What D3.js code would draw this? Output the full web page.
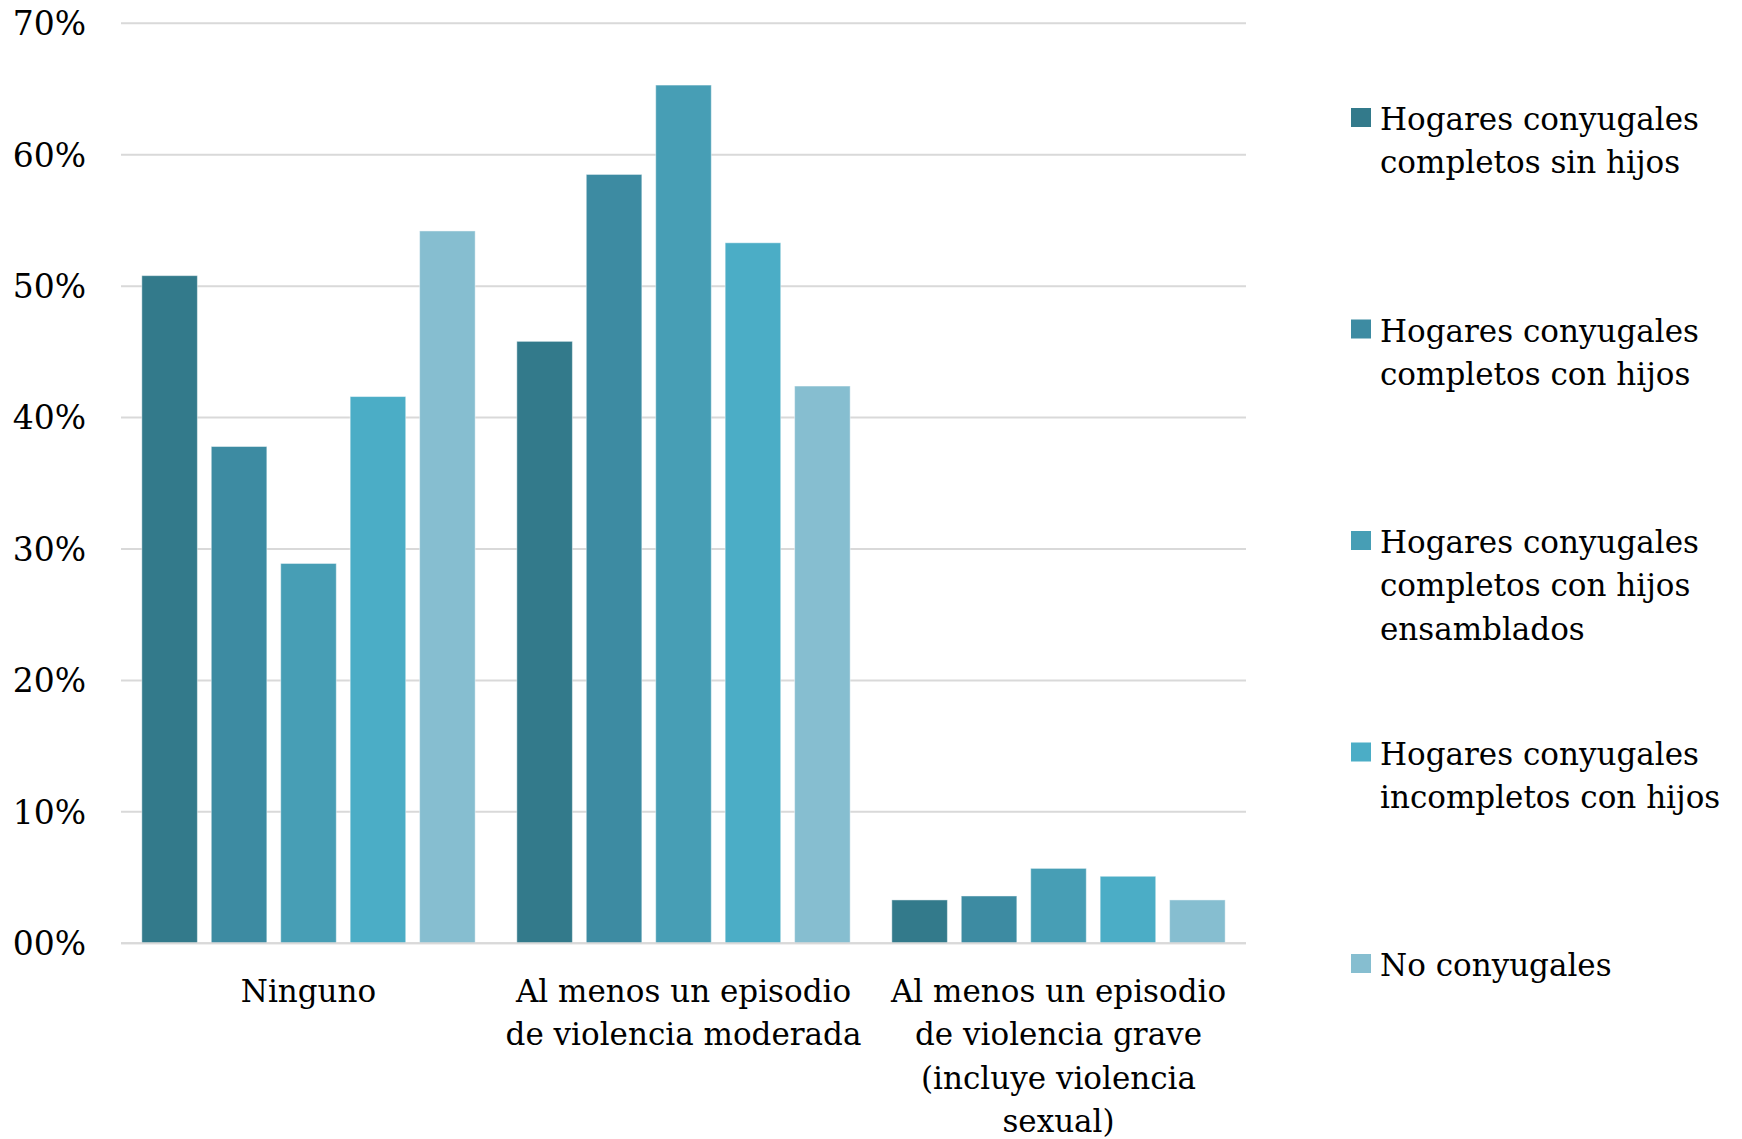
<!DOCTYPE html>
<html><head><meta charset="utf-8">
<script src="https://cdn.jsdelivr.net/npm/d3@7"></script>
<style>body{margin:0;background:#fff}svg{display:block}</style>
</head><body>
<svg id="c" width="1742" height="1139"></svg>
<script>
const categories = [
  ["Ninguno"],
  ["Al menos un episodio", "de violencia moderada"],
  ["Al menos un episodio", "de violencia grave", "(incluye violencia", "sexual)"]
];
const seriesNames = [
  ["Hogares conyugales", "completos sin hijos"],
  ["Hogares conyugales", "completos con hijos"],
  ["Hogares conyugales", "completos con hijos", "ensamblados"],
  ["Hogares conyugales", "incompletos con hijos"],
  ["No conyugales"]
];
const sinHijos      = [50.8, 45.8, 3.3];
const conHijos      = [37.8, 58.5, 3.6];
const ensamblados   = [28.9, 65.3, 5.7];
const incompletos   = [41.6, 53.3, 5.1];
const noConyugales  = [54.2, 42.4, 3.3];
const seriesValues = [sinHijos, conHijos, ensamblados, incompletos, noConyugales];
const colors = ["#337a8b", "#3d8ba2", "#479eb5", "#4badc6", "#86bed0"];
const tickValues = [0, 10, 20, 30, 40, 50, 60, 70];
const tickLabels = ["00%", "10%", "20%", "30%", "40%", "50%", "60%", "70%"];

(function () {
const svg = d3.select("#c");
const font = "'DejaVu Serif', serif";
const pLeft = 121, pRight = 1246, pTop = 23.3, pBottom = 943.3;

const x0 = d3.scaleBand().domain(d3.range(categories.length)).range([pLeft, pRight]).padding(0);
const x1 = d3.scaleBand().domain(d3.range(seriesValues.length)).range([0, x0.bandwidth()])
  .paddingInner(0.2).paddingOuter(0.3);
const y = d3.scaleLinear().domain([0, 70]).range([pBottom, pTop]);

svg.append("g").selectAll("line").data(tickValues).join("line")
  .attr("x1", pLeft).attr("x2", pRight)
  .attr("y1", d => y(d)).attr("y2", d => y(d))
  .attr("stroke", "#d9d9d9").attr("stroke-width", 2);

svg.append("g").selectAll("text").data(tickValues).join("text")
  .attr("x", 86).attr("y", d => y(d)).attr("dy", "0.36em")
  .attr("text-anchor", "end")
  .attr("font-family", font).attr("font-size", 33).attr("fill", "#000")
  .text((d, i) => tickLabels[i]);

const g = svg.append("g");
seriesValues.forEach((vals, s) => {
  g.append("g").selectAll("rect").data(vals).join("rect")
    .attr("x", (d, i) => x0(i) + x1(s))
    .attr("width", x1.bandwidth())
    .attr("y", d => y(d))
    .attr("height", d => y(0) - y(d))
    .attr("fill", colors[s])
    .attr("stroke", "rgba(255,255,255,0.45)").attr("stroke-width", 1);
});

svg.append("line").attr("x1", pLeft).attr("x2", pRight)
  .attr("y1", y(0)).attr("y2", y(0))
  .attr("stroke", "#d9d9d9").attr("stroke-width", 2);

const lh = 43.3;
categories.forEach((lines, i) => {
  const cx = x0(i) + x0.bandwidth() / 2;
  const t = svg.append("text")
    .attr("x", cx).attr("y", 1002)
    .attr("text-anchor", "middle")
    .attr("font-family", font).attr("font-size", 31).attr("fill", "#000");
  lines.forEach((ln, k) => {
    t.append("tspan").attr("x", cx).attr("dy", k === 0 ? 0 : lh).text(ln);
  });
});

const legY0 = 119, legStep = 211.5;
seriesNames.forEach((lines, s) => {
  const cy = legY0 + s * legStep;
  svg.append("rect").attr("x", 1351).attr("y", cy - 11).attr("width", 20).attr("height", 19)
    .attr("fill", colors[s]);
  const t = svg.append("text").attr("x", 1380).attr("y", cy + 11)
    .attr("font-family", font).attr("font-size", 31).attr("fill", "#000");
  lines.forEach((ln, k) => {
    t.append("tspan").attr("x", 1380).attr("dy", k === 0 ? 0 : lh).text(ln);
  });
});
})();
</script>
</body></html>
